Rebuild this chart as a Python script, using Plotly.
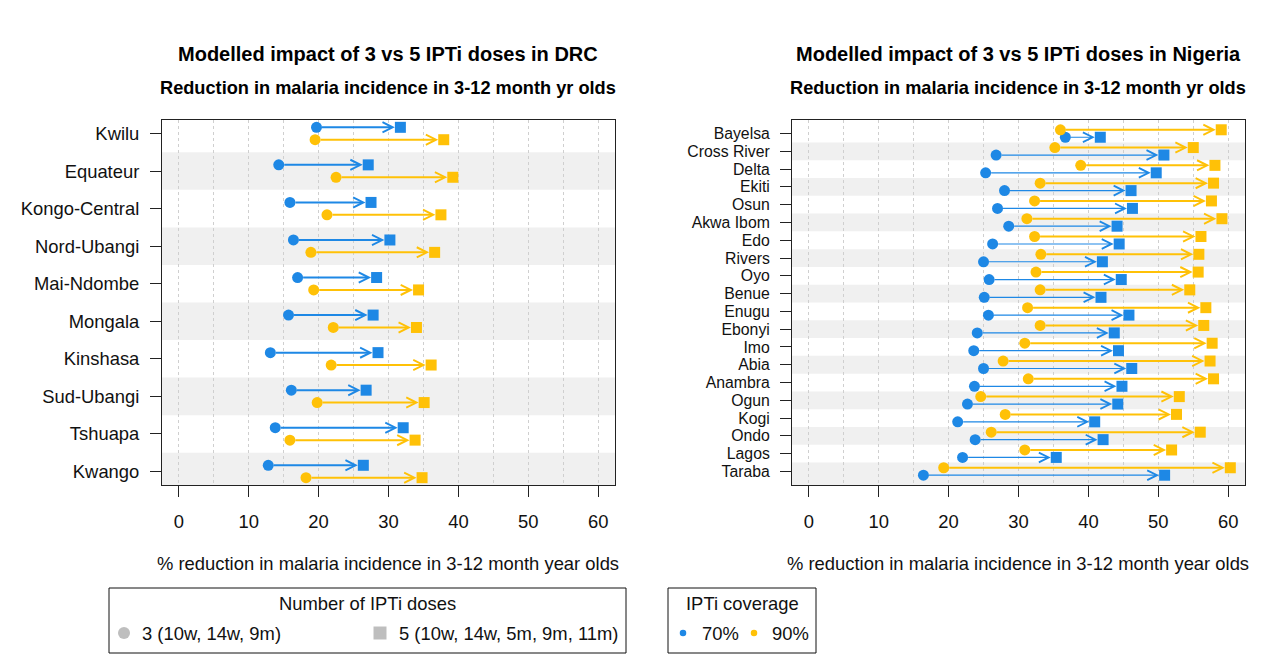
import plotly.graph_objects as go

# ---------------- data ----------------
drc_regions = ["Kwilu", "Equateur", "Kongo-Central", "Nord-Ubangi", "Mai-Ndombe",
               "Mongala", "Kinshasa", "Sud-Ubangi", "Tshuapa", "Kwango"]
drc_cov70_3doses = [19.7, 14.3, 15.9, 16.4, 17.0, 15.7, 13.1, 16.1, 13.8, 12.8]
drc_cov70_5doses = [31.7, 27.1, 27.5, 30.2, 28.3, 27.8, 28.5, 26.8, 32.1, 26.4]
drc_cov90_3doses = [19.5, 22.5, 21.2, 18.9, 19.3, 22.1, 21.8, 19.8, 15.9, 18.2]
drc_cov90_5doses = [37.9, 39.2, 37.5, 36.6, 34.3, 34.0, 36.1, 35.1, 33.8, 34.8]

nga_regions = ["Bayelsa", "Cross River", "Delta", "Ekiti", "Osun", "Akwa Ibom", "Edo",
               "Rivers", "Oyo", "Benue", "Enugu", "Ebonyi", "Imo", "Abia", "Anambra",
               "Ogun", "Kogi", "Ondo", "Lagos", "Taraba"]
nga_cov70_3doses = [36.7, 26.8, 25.3, 28.0, 27.0, 28.6, 26.3, 25.0, 25.8, 25.1,
                    25.7, 24.1, 23.6, 25.0, 23.7, 22.7, 21.3, 23.8, 22.0, 16.4]
nga_cov70_5doses = [41.7, 50.8, 49.7, 46.1, 46.3, 44.1, 44.4, 42.0, 44.7, 41.8,
                    45.8, 43.7, 44.3, 46.2, 44.8, 44.2, 40.9, 42.1, 35.4, 50.9]
nga_cov90_3doses = [36.0, 35.2, 38.9, 33.1, 32.3, 31.2, 32.3, 33.2, 32.5, 33.1,
                    31.3, 33.1, 30.9, 27.8, 31.4, 24.6, 28.1, 26.1, 30.9, 19.3]
nga_cov90_5doses = [59.0, 55.0, 58.1, 57.9, 57.6, 59.1, 56.1, 55.8, 55.7, 54.5,
                    56.8, 56.5, 57.7, 57.4, 57.9, 53.0, 52.6, 56.0, 51.9, 60.3]

x_ticks = [0, 10, 20, 30, 40, 50, 60]
titles = ["Modelled impact of 3 vs 5 IPTi doses in DRC",
          "Modelled impact of 3 vs 5 IPTi doses in Nigeria"]
subtitle = "Reduction in malaria incidence in 3-12 month yr olds"
x_title = "% reduction in malaria incidence in 3-12 month year olds"
legend_doses_title = "Number of IPTi doses"
legend_doses = ["3 (10w, 14w, 9m)", "5 (10w, 14w, 5m, 9m, 11m)"]
legend_cov_title = "IPTi coverage"
legend_cov = ["70%", "90%"]

# ---------------- styling ----------------
W, H = 1266, 658
BLUE = "#1E88E5"
YELLOW = "#FFC107"
GREY = "#BEBEBE"
BAND = "#F0F0F0"
FONT = "Liberation Sans, Arial, sans-serif"
TXT = 18.4


def px(x):
    return x / W


def py(y):
    return 1 - y / H


fig = go.Figure()

panels = [
    dict(regions=drc_regions, xa="x", ya="y", x0=162, x1=615, ylab=TXT, ystand=7,
         series=[(drc_cov70_3doses, drc_cov70_5doses, BLUE, -0.165, 2.0, 1.0),
                 (drc_cov90_3doses, drc_cov90_5doses, YELLOW, 0.165, 2.0, 1.0)]),
    dict(regions=nga_regions, xa="x2", ya="y2", x0=792, x1=1245, ylab=15.8, ystand=7,
         series=[(nga_cov70_3doses, nga_cov70_5doses, BLUE, 0.21, 1.2, 1.6),
                 (nga_cov90_3doses, nga_cov90_5doses, YELLOW, -0.21, 2.0, 1.0)]),
]

annotations = []
shapes = []

for pi, p in enumerate(panels):
    n = len(p["regions"])
    rows = list(range(1, n + 1))
    # alternating bands
    for r in rows:
        if r % 2 == 0:
            y0 = r - 0.5
            y1 = r + 0.5
            if r == n:
                y1 = n + 0.04 * (n - 1)
            shapes.append(dict(type="rect", xref=p["xa"] + " domain", yref=p["ya"],
                               x0=0, x1=1, y0=y0, y1=y1, fillcolor=BAND,
                               line=dict(width=0), layer="below"))
    for (v3, v5, col, off, lw, asz) in p["series"]:
        ys = [r + off for r in rows]
        for a, b, yy in zip(v3, v5, ys):
            annotations.append(dict(x=b, y=yy, ax=a, ay=yy, xref=p["xa"], yref=p["ya"],
                                    axref=p["xa"], ayref=p["ya"], text="", showarrow=True,
                                    arrowhead=5, arrowsize=asz, arrowwidth=lw,
                                    arrowcolor=col, standoff=5.5, startstandoff=4))
        fig.add_trace(go.Scatter(x=v3, y=ys, mode="markers", xaxis=p["xa"], yaxis=p["ya"],
                                 marker=dict(symbol="circle", size=11, color=col,
                                             line=dict(width=0)),
                                 showlegend=False, hoverinfo="skip"))
        fig.add_trace(go.Scatter(x=v5, y=ys, mode="markers", xaxis=p["xa"], yaxis=p["ya"],
                                 marker=dict(symbol="square", size=11, color=col,
                                             line=dict(width=0)),
                                 showlegend=False, hoverinfo="skip"))

    ax_common = dict(showline=True, mirror=True, linecolor="#222", linewidth=1,
                     ticks="outside", ticklen=11, tickcolor="#222", tickwidth=1,
                     zeroline=False)
    fig.layout[("xaxis" if pi == 0 else "xaxis2")] = dict(
        domain=[px(p["x0"]), px(p["x1"])], anchor=p["ya"], range=[-2.4, 62.4],
        tickvals=x_ticks, showgrid=True, gridcolor="#CFCFCF", griddash="dot", gridwidth=1,
        minor=dict(tickvals=[5, 15, 25, 35, 45, 55], showgrid=True, gridcolor="#CFCFCF",
                   griddash="dot", gridwidth=1, ticks=""),
        ticklabelstandoff=9, tickfont=dict(family=FONT, size=TXT, color="#111"),
        **ax_common)
    fig.layout[("yaxis" if pi == 0 else "yaxis2")] = dict(
        domain=[py(485), py(120)], anchor=p["xa"],
        range=[n + 0.04 * (n - 1), 1 - 0.04 * (n - 1)],
        tickvals=rows, ticktext=p["regions"], showgrid=False,
        ticklabelstandoff=p["ystand"],
        tickfont=dict(family=FONT, size=p["ylab"], color="#111"),
        **ax_common)

    cx = px((p["x0"] + p["x1"]) / 2)
    annotations.append(dict(x=cx, y=py(54), xref="paper", yref="paper", text="<b>%s</b>" % titles[pi],
                            showarrow=False, font=dict(family=FONT, size=20, color="#000"),
                            xanchor="center", yanchor="middle"))
    annotations.append(dict(x=cx, y=py(88), xref="paper", yref="paper", text="<b>%s</b>" % subtitle,
                            showarrow=False, font=dict(family=FONT, size=18.2, color="#000"),
                            xanchor="center", yanchor="middle"))
    annotations.append(dict(x=cx, y=py(563), xref="paper", yref="paper", text=x_title,
                            showarrow=False, font=dict(family=FONT, size=TXT, color="#111"),
                            xanchor="center", yanchor="middle"))

# ---------------- legends ----------------
shapes.append(dict(type="rect", xref="paper", yref="paper", x0=px(109), x1=px(626),
                   y0=py(653), y1=py(588), line=dict(color="#111", width=1), fillcolor="white"))
shapes.append(dict(type="rect", xref="paper", yref="paper", x0=px(668), x1=px(816),
                   y0=py(653), y1=py(588), line=dict(color="#111", width=1), fillcolor="white"))

annotations.append(dict(x=px(367), y=py(603), xref="paper", yref="paper", text=legend_doses_title,
                        showarrow=False, font=dict(family=FONT, size=TXT, color="#111"),
                        xanchor="center", yanchor="middle"))
annotations.append(dict(x=px(742), y=py(603), xref="paper", yref="paper", text=legend_cov_title,
                        showarrow=False, font=dict(family=FONT, size=TXT, color="#111"),
                        xanchor="center", yanchor="middle"))

leg_items = [
    (legend_doses[0], 124, 140, "circle", GREY, 12),
    (legend_doses[1], 380, 397, "rect", GREY, 13),
    (legend_cov[0], 683, 700, "circle", BLUE, 6.5),
    (legend_cov[1], 754, 770, "circle", YELLOW, 6.5),
]
for txt, mx, tx, sym, col, sz in leg_items:
    h = sz / 2
    shapes.append(dict(type=sym, xref="paper", yref="paper",
                       x0=px(mx - h), x1=px(mx + h), y0=py(633 + h), y1=py(633 - h),
                       fillcolor=col, line=dict(width=0), layer="above"))
    annotations.append(dict(x=px(tx), y=py(633), xref="paper", yref="paper", text=txt,
                            showarrow=False, font=dict(family=FONT, size=TXT, color="#111"),
                            xanchor="left", yanchor="middle"))

fig.update_layout(width=W, height=H, margin=dict(l=0, r=0, t=0, b=0),
                  paper_bgcolor="white", plot_bgcolor="white",
                  annotations=annotations, shapes=shapes, showlegend=False,
                  font=dict(family=FONT))

fig.write_html("out.html", config={"displayModeBar": False},
               post_script="document.body.style.margin='0';")
